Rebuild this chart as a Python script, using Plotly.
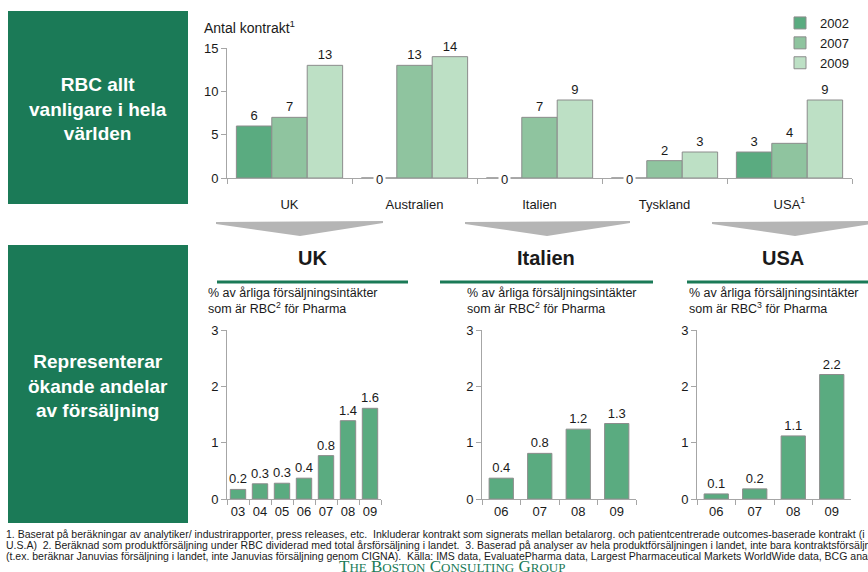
import plotly.graph_objects as go

# ---- data ----
countries = ["UK", "Australien", "Italien", "Tyskland", "USA"]
country_ticktext = ["UK", "Australien", "Italien", "Tyskland", "USA<sup>1</sup>"]
years = ["2002", "2007", "2009"]
contracts_2002 = [6, 0, 0, 0, 3]
contracts_2007 = [7, 13, 7, 2, 4]
contracts_2009 = [13, 14, 9, 3, 9]

uk_years = ["03", "04", "05", "06", "07", "08", "09"]
uk_share = [0.17, 0.27, 0.28, 0.37, 0.77, 1.39, 1.61]
it_years = ["06", "07", "08", "09"]
it_share = [0.37, 0.81, 1.24, 1.34]
us_years = ["06", "07", "08", "09"]
us_share = [0.09, 0.18, 1.12, 2.21]

# ---- styling ----
W, H = 868, 572
FONT = "Arial, Liberation Sans, sans-serif"
DARK_GREEN = "#1b7a57"
BAR_COLORS = ["#5aab80", "#8fc49f", "#bde0c5"]
OUTLINE = "#8c8c8c"
AXIS = "#a6a6a6"
TXT = "#1a1a1a"


def px_x(v):
    return v / W


def px_y(v):
    return 1 - v / H


fig = go.Figure()

# Contract counts per country, grouped by year
for yr, vals, col in zip(years, [contracts_2002, contracts_2007, contracts_2009], BAR_COLORS):
    fig.add_trace(go.Bar(
        x=countries, y=vals, name=yr,
        marker=dict(color=col, line=dict(color=OUTLINE, width=1)),
        text=[str(v) if v > 0 else "" for v in vals],
        textposition="outside", cliponaxis=False, constraintext="none",
        textfont=dict(size=13, color=TXT, family=FONT),
        xaxis="x", yaxis="y",
    ))

# Revenue share panels
panels = [
    (uk_years, uk_share, "x2", "y2", 0.70),
    (it_years, it_share, "x3", "y3", 0.63),
    (us_years, us_share, "x4", "y4", 0.63),
]
for cats, vals, xa, ya, w in panels:
    fig.add_trace(go.Bar(
        x=cats, y=vals, width=w, showlegend=False,
        marker=dict(color=BAR_COLORS[0], line=dict(color=OUTLINE, width=1)),
        texttemplate="%{y:.1f}", textposition="outside", cliponaxis=False,
        constraintext="none",
        textfont=dict(size=13, color=TXT, family=FONT),
        xaxis=xa, yaxis=ya,
    ))

tickfont = dict(size=13, color=TXT, family=FONT)


def xax(domain, anchor, standoff=None, **kw):
    d = dict(domain=domain, anchor=anchor, type="category",
             showline=True, linecolor=AXIS, linewidth=1,
             ticks="outside", tickson="boundaries", ticklen=5, tickcolor=AXIS,
             tickangle=0, automargin=False,
             showgrid=False, zeroline=False, tickfont=tickfont, fixedrange=True)
    if standoff is not None:
        d["ticklabelstandoff"] = standoff
    d.update(kw)
    return d


def yax(domain, anchor, rng, tickvals):
    return dict(domain=domain, anchor=anchor, range=rng, tickvals=tickvals,
                showline=True, linecolor=AXIS, linewidth=1,
                ticks="outside", ticklen=5, tickcolor=AXIS, automargin=False,
                showgrid=False, zeroline=False, tickfont=tickfont, fixedrange=True)


bottom_y = [px_y(499), px_y(330)]
fig.update_layout(
    width=W, height=H, autosize=False,
    margin=dict(l=0, r=0, t=0, b=0, pad=0, autoexpand=False),
    paper_bgcolor="white", plot_bgcolor="rgba(0,0,0,0)",
    barmode="group", bargap=0.15, bargroupgap=0,
    font=dict(family=FONT, color=TXT),
    xaxis=xax([px_x(227), px_x(852)], "y", standoff=14,
              categoryorder="array", categoryarray=countries,
              tickvals=countries, ticktext=country_ticktext),
    yaxis=yax([px_y(178), px_y(48)], "x", [0, 15], [0, 5, 10, 15]),
    xaxis2=xax([px_x(227), px_x(381)], "y2"),
    yaxis2=yax(bottom_y, "x2", [0, 3], [0, 1, 2, 3]),
    xaxis3=xax([px_x(482), px_x(636)], "y3"),
    yaxis3=yax(bottom_y, "x3", [0, 3], [0, 1, 2, 3]),
    xaxis4=xax([px_x(697), px_x(851)], "y4"),
    yaxis4=yax(bottom_y, "x4", [0, 3], [0, 1, 2, 3]),
    legend=dict(x=px_x(780), y=px_y(8), xanchor="left", yanchor="top",
                font=dict(size=13, color=TXT, family=FONT),
                bgcolor="rgba(0,0,0,0)", traceorder="normal"),
)

shapes = []
# green side panels
for y0, y1 in [(11, 204), (245, 523)]:
    shapes.append(dict(type="rect", xref="paper", yref="paper",
                       x0=px_x(8), x1=px_x(188), y0=px_y(y1), y1=px_y(y0),
                       fillcolor=DARK_GREEN, line=dict(width=0), layer="below"))


def arrow_path(xl, xr, xt):
    pts = [(xl, 222), (xr, 221), (xr, 223), (xt, 236), (xl, 224)]
    return "M " + " L ".join(f"{px_x(a):.5f},{px_y(b):.5f}" for a, b in pts) + " Z"


for xl, xr, xt in [(216, 383, 300), (465, 630, 547), (712, 878, 795)]:
    shapes.append(dict(type="path", xref="paper", yref="paper",
                       path=arrow_path(xl, xr, xt),
                       fillcolor="#b5b5b5", line=dict(width=0)))

# green rules under panel headings
for x0, x1 in [(217, 408), (440, 653), (687, 870)]:
    shapes.append(dict(type="line", xref="paper", yref="paper",
                       x0=px_x(x0), x1=px_x(x1), y0=px_y(282), y1=px_y(282),
                       line=dict(color=DARK_GREEN, width=3)))
fig.update_layout(shapes=shapes)


def note(text, x, y, size, color=TXT, xanchor="center", align="center", family=FONT, **kw):
    return dict(text=text, x=px_x(x), y=px_y(y), xref="paper", yref="paper",
                xanchor=xanchor, yanchor="middle", align=align, showarrow=False,
                font=dict(size=size, color=color, family=family), **kw)


def bold_lines(lines):
    return "<br>".join(f"<b>{s}</b>" for s in lines)


ann = []
ann.append(note(bold_lines(["RBC allt", "vanligare i hela", "världen"]),
                98, 109, 19, color="white"))
ann.append(note(bold_lines(["Representerar", "ökande andelar", "av försäljning"]),
                98, 386, 19, color="white"))
ann.append(note("Antal kontrakt<sup>1</sup>", 202, 27, 14, xanchor="left", align="left"))

# "0" markers for countries without contracts in 2002
slot_px = (852 - 227) / len(countries) * (1 - 0.15) / len(years)
for c, v in zip(countries, contracts_2002):
    if v == 0:
        ann.append(dict(text="0", x=c, y=0, xref="x", yref="y",
                        xanchor="center", yanchor="middle",
                        xshift=-slot_px, yshift=-1, showarrow=False,
                        bgcolor="white", borderpad=2,
                        font=dict(size=13, color=TXT, family=FONT)))

for label, cx in [("UK", 312), ("Italien", 546), ("USA", 783)]:
    ann.append(note(f"<b>{label}</b>", cx, 258, 20))

for sup, lx in [("2", 206), ("2", 465), ("3", 687)]:
    ann.append(note(f"% av årliga försäljningsintäkter<br>som är RBC<sup>{sup}</sup> för Pharma",
                    lx, 301, 12.5, xanchor="left", align="left"))

notes = [
    "1. Baserat på beräkningar av analytiker/ industrirapporter, press releases, etc.  Inkluderar kontrakt som signerats mellan betalarorg. och patientcentrerade outcomes-baserade kontrakt (i",
    "U.S.A)  2. Beräknad som produktförsäljning under RBC dividerad med total årsförsäljning i landet.  3. Baserad på analyser av hela produktförsäljningen i landet, inte bara kontraktsförsäljning",
    "(t.ex. beräknar Januvias försäljning i landet, inte Januvias försäljning genom CIGNA).  Källa: IMS data, EvaluatePharma data, Largest Pharmaceutical Markets WorldWide data, BCG analys",
]
for i, line in enumerate(notes):
    ann.append(note(line, 4, 534 + 11 * i, 10.5, xanchor="left", align="left"))


def small_caps(word):
    return f"{word[0]}<span style='font-size:13px'>{word[1:]}</span>"


logo = " ".join(small_caps(w) for w in ["THE", "BOSTON", "CONSULTING", "GROUP"])
ann.append(note(logo, 452, 566, 17, color=DARK_GREEN,
                family="Liberation Serif, Times New Roman, serif"))

fig.update_layout(annotations=ann)

fig.write_html("out.html")
